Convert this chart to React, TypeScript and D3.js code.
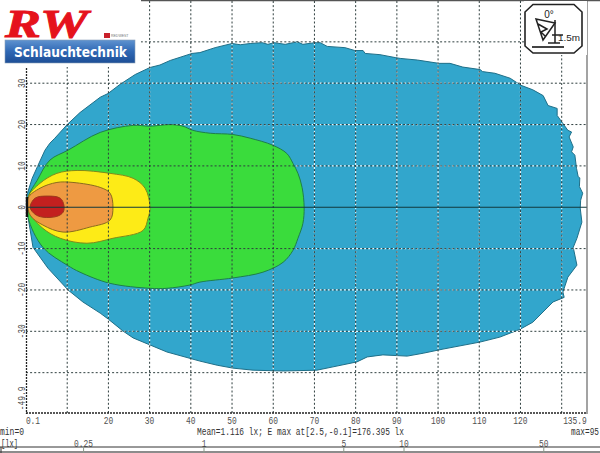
import React from "react";
import * as d3 from "d3";

type P = [number, number];

const outerContour: P[] = [[0.1,0.5],[0.2,2.9],[1.5,7],[2.9,10.1],[4.6,13.8],[5.8,15.5],[7,16.7],[10,20],[13.1,22.9],[18,26.6],[19.9,27.5],[22.8,29.7],[26.5,32.1],[30.1,33.8],[32.5,34.4],[35,35.5],[40.3,37.2],[42.2,37.4],[45.9,38.6],[50,39.6],[52,39.3],[54.4,39.6],[57.3,39.8],[58.7,39.4],[60.2,39.8],[62.9,39.4],[65.8,40],[67.2,39.4],[70.1,39.8],[71.4,39.8],[73.1,38.9],[77.4,38.6],[79.8,37.9],[81.8,37.9],[82.3,37.2],[85.9,36.9],[89.6,36.2],[90.8,36],[95,35.6],[100.2,34.8],[102.9,34.8],[106,33.9],[110.2,33.3],[110.8,32.8],[113.8,32.4],[117.5,31.2],[120.1,29.5],[123,28.4],[125.5,27],[126.7,24.6],[128.9,23.9],[128.9,22.2],[130.2,20.4],[131.5,18.6],[132.4,18.2],[131.8,17],[132.8,14.6],[132.4,13.4],[133.2,12.6],[133.6,9.4],[134,7.4],[134.4,7.1],[134.3,5],[135.1,3.4],[134.6,1.7],[134.5,-0.2],[134.9,-3.6],[133.7,-7.5],[132.8,-9.7],[133.7,-14],[131.5,-16.9],[130.3,-20.5],[130.6,-21.8],[127.9,-22.9],[123,-27.8],[119.9,-29.5],[115,-31.4],[110.2,-32.6],[101.2,-34.3],[96.4,-35.3],[92.5,-36],[86.6,-35.7],[82.8,-36.2],[80.3,-37.4],[74.5,-38.6],[70.6,-39.4],[62.4,-39.6],[55.1,-39.4],[50.2,-38.9],[46.4,-38.2],[42.2,-37.2],[34.2,-35],[30.1,-33.3],[26,-31.6],[23.5,-29.9],[19.9,-27],[18,-25.6],[13.8,-22.9],[10.2,-20],[5.3,-14.7],[1.7,-9.7],[0.5,-2.4]];
const greenContour: P[] = [[0.5,2.4],[2.7,6.5],[5.8,11.4],[10.2,13.8],[18,18.1],[26,19.8],[30.1,19.6],[35,20],[38.1,19.6],[40.5,18.6],[44.7,17.9],[50.2,17.6],[54.4,16.7],[59.9,15],[63.3,13],[64.8,10.6],[66,8.2],[67,4.8],[67.5,0],[67.2,-3.9],[66,-7.5],[64.8,-10.4],[62.4,-13.3],[57.5,-15.7],[50.2,-17.1],[42.2,-18.1],[39.8,-18.8],[34.2,-19.6],[30.1,-19.6],[20.4,-18.4],[13.1,-15.7],[10,-14],[4.1,-9.7],[0.5,-2.4]];
const yellowContour: P[] = [[0.5,2.4],[3.4,5.8],[7.5,8.2],[12.4,8.9],[20.4,8.2],[26,7],[28.9,4.6],[30.1,0],[29.6,-2.7],[28.4,-5.6],[21.1,-7.5],[14.8,-8.7],[8.3,-7.5],[4.1,-5.1],[1,-1.4]];
const orangeContour: P[] = [[0.5,2.2],[3.4,4.6],[7.5,6],[11.4,6],[18,4.8],[20.4,3.4],[21.1,0],[20.4,-3.1],[15.5,-4.8],[9,-6],[4.1,-4.3],[1,-1.9]];
const redContour: P[] = [[1,0],[2.2,2.2],[5.1,2.7],[8.3,2.2],[9.2,0.5],[9,-1.2],[7.5,-2.2],[4.1,-2.4],[2.2,-1.7]];

const xGrid = [10,20,30,40,50,60,70,80,90,100,110,120,130];
const yGrid = [40,30,20,10,-10,-20,-30,-40];
const xLabels = [20,30,40,50,60,70,80,90,100,110,120];
const yLabels = [30,20,10,0,-10,-20,-30];
const legendTicks = [0.25,1,5,10,50];
const meanText = "Mean=1.116 lx; E max at[2.5,-0.1]=176.395 lx";

const x = d3.scaleLinear().domain([0,135.9]).range([26,586]);
const y = d3.scaleLinear().domain([-49.9,50]).range([413.6,0.5]);
const legend = d3.scaleLog().domain([1,10]).range([204,404]);
const jagged = d3.line<P>().x(d=>x(d[0])).y(d=>y(d[1])).curve(d3.curveLinearClosed);
const smooth = d3.line<P>().x(d=>x(d[0])).y(d=>y(d[1])).curve(d3.curveCatmullRomClosed.alpha(0.5));

const font = "'Liberation Mono', monospace";
const textCol = "#4f4f4f";
const w = (s: string | number) => String(s).length * 4.75;

function Grid({stroke, dash, width=1, offset=0}:{stroke:string;dash:string;width?:number;offset?:number}) {
  return <g stroke={stroke} strokeDasharray={dash} strokeDashoffset={offset} strokeWidth={width}>
    {xGrid.map(v=><line key={v} x1={x(v)} x2={x(v)} y1={1} y2={413}/>)}
    {yGrid.map(v=><line key={v} x1={26} x2={586} y1={y(v)} y2={y(v)}/>)}
  </g>;
}

export default function App() {
  return (
    <svg width={600} height={453} viewBox="0 0 600 453" style={{position:"absolute",left:0,top:0,background:"#fff"}}>
      <rect width={600} height={453} fill="#fff"/>
      <path d={jagged(outerContour)!} fill="#32a6cc" stroke="#1f6f88" strokeWidth={1}/>
      <clipPath id="blue"><path d={jagged(outerContour)!}/></clipPath>
      <g clipPath="url(#blue)"><Grid stroke="#e8f6fb" dash="2 2" width={1.2} offset={2}/></g>
      <path d={smooth(greenContour)!} fill="#3adc3c" stroke="#1f7f4a" strokeWidth={1}/>
      <path d={smooth(yellowContour)!} fill="#fdeb17" stroke="#7f8a1c" strokeWidth={1}/>
      <path d={smooth(orangeContour)!} fill="#ee9a42" stroke="#8a6a1e" strokeWidth={1}/>
      <path d={smooth(redContour)!} fill="#c3201f" stroke="#9a3a1a" strokeWidth={1}/>
      <Grid stroke="#2f3f3f" dash="2 2.1"/>
      <line x1={26} x2={587} y1={y(0)} y2={y(0)} stroke="#12383c" strokeWidth={1.2}/>
      <line x1={26.5} x2={26.5} y1={68} y2={414} stroke="#222" strokeWidth={1.3} strokeDasharray="2 1"/>
      <line x1={27} x2={27} y1={197} y2={217} stroke="#111" strokeWidth={2.4}/>
      <line x1={26} x2={587} y1={413} y2={413} stroke="#222" strokeWidth={1.3} strokeDasharray="2 1"/>
      <line x1={587} x2={587} y1={0} y2={414} stroke="#666" strokeWidth={1.2}/>
      <line x1={140} x2={600} y1={0.5} y2={0.5} stroke="#555" strokeWidth={1.5}/>

      {/* logo */}
      <rect x={0} y={0} width={141} height={67} fill="#fff"/>
      <text x={5} y={37} fontFamily="'Liberation Serif', serif" fontWeight={700} fontStyle="italic" fontSize={41} fill="#e5121c" stroke="#e5121c" strokeWidth={0.9} textLength={83} lengthAdjust="spacingAndGlyphs">RW</text>
      <rect x={104} y={33} width={6} height={5} fill="#c8202a"/>
      <text x={111} y={37} fontFamily="'Liberation Sans', sans-serif" fontSize={3.5} fill="#777">REDWEST</text>
      <defs>
        <linearGradient id="logoBlue" x1="0" x2="0" y1="0" y2="1">
          <stop offset="0" stopColor="#5f93d0"/><stop offset="0.5" stopColor="#2f68b4"/><stop offset="1" stopColor="#1d4e96"/>
        </linearGradient>
      </defs>
      <rect x={5} y={40} width={130} height={23} fill="url(#logoBlue)" stroke="#8aa0b8" strokeWidth={0.6}/>
      <text x={14} y={57} fontFamily="'DejaVu Sans', sans-serif" fontWeight={700} fontSize={14} fill="#fff" textLength={113} lengthAdjust="spacingAndGlyphs">Schlauchtechnik</text>

      {/* beam icon */}
      <rect x={524} y={1} width={63} height={54} fill="#fff"/>
      <path d="M533,4.5 H574 L582,12 V46 L574,53 H533 L525,46 V12 Z" fill="#fff" stroke="#222" strokeWidth={1.6}/>
      <text x={549} y={18} textAnchor="middle" fontFamily="'Liberation Sans', sans-serif" fontSize={10} fill="#222">0°</text>
      <text x={558} y={41} fontFamily="'Liberation Sans', sans-serif" fontSize={9.5} fill="#222" textLength={22} lengthAdjust="spacingAndGlyphs">1.5m</text>
      <g stroke="#222" strokeWidth={1.5} fill="none">
        <path d="M536,19 L555,23 L543,40 Z M538,24 L547,29 L541,32 L546,37"/>
        <path d="M555,20 V43 M552,35 H563 M548,43 H560"/>
        <path d="M532,47 H564" strokeWidth={1.7}/>
      </g>

      {/* ticks */}
      <g fontFamily={font} fontSize={10.5} fill={textCol}>
        <text x={33} y={424} textAnchor="middle" textLength={w("0.1")} lengthAdjust="spacingAndGlyphs">0.1</text>
        {xLabels.map(v=><text key={v} x={x(v)} y={424} textAnchor="middle" textLength={w(v)} lengthAdjust="spacingAndGlyphs">{v}</text>)}
        <text x={575} y={424} textAnchor="middle" textLength={w("135.9")} lengthAdjust="spacingAndGlyphs">135.9</text>
        {yLabels.map(v=><text key={v} transform={`translate(25,${y(v)}) rotate(-90)`} textAnchor="middle" textLength={w(v)} lengthAdjust="spacingAndGlyphs">{v}</text>)}
        <text transform={`translate(25,${y(-46.2)}) rotate(-90)`} textAnchor="middle" textLength={w("-49.9")} lengthAdjust="spacingAndGlyphs">-49.9</text>
      </g>

      {/* footer */}
      <g fontFamily={font} fontSize={10.5} fill="#333">
        <text x={0} y={435} textLength={24} lengthAdjust="spacingAndGlyphs">min=0</text>
        <text x={197} y={435} textLength={207} lengthAdjust="spacingAndGlyphs">{meanText}</text>
        <text x={571} y={435} textLength={28} lengthAdjust="spacingAndGlyphs">max=95</text>
      </g>
      <g fontFamily={font} fontSize={10} fill="#333">
        <text x={1} y={446.5} textLength={17} lengthAdjust="spacingAndGlyphs">[lx]</text>
        {legendTicks.map(v=><text key={v} x={legend(v)} y={446.5} textAnchor="middle" fill="#555" textLength={w(v)} lengthAdjust="spacingAndGlyphs">{v}</text>)}
      </g>
      <line x1={0} x2={600} y1={447} y2={447} stroke="#333" strokeWidth={1}/>
      <rect x={0} y={451} width={600} height={2} fill="#8c8c8c"/>
      <line x1={1} x2={1} y1={447} y2={453} stroke="#333"/>
      {legendTicks.map(v=><line key={v} x1={legend(v)} x2={legend(v)} y1={447} y2={453} stroke="#8a9a8a"/>)}
    </svg>
  );
}
